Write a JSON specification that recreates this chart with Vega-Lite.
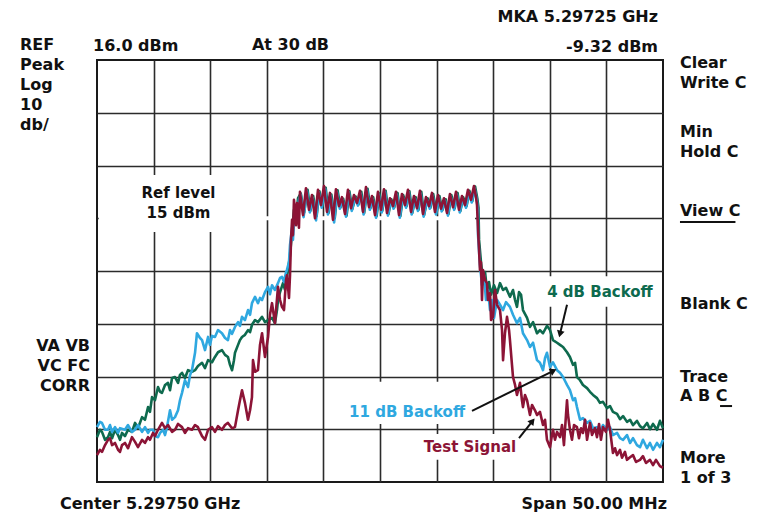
{
  "$schema": "https://vega.github.io/schema/vega-lite/v6.json",
  "width": 566,
  "height": 422,
  "autosize": {"type": "none"},
  "padding": {"left": 97, "top": 60, "right": 98, "bottom": 31},
  "background": "white",
  "config": {
    "view": {"stroke": "#1a1a1a", "strokeWidth": 2},
    "axis": {"labels": false, "ticks": false, "domain": false, "grid": true, "gridColor": "#2b2b2b", "gridWidth": 1.6, "gridOpacity": 1},
    "text": {"font": "DejaVu Sans", "fontWeight": "bold", "fontSize": 16, "color": "#111111"},
    "line": {"strokeWidth": 2.6, "strokeJoin": "round"}
  },
  "datasets": {
    "green": [
      {"mhz":-25.00,"dbm":-55.5},{"mhz":-24.74,"dbm":-54.1},{"mhz":-24.56,"dbm":-54.5},{"mhz":-24.29,"dbm":-56.0},{"mhz":-24.03,"dbm":-55.5},{"mhz":-23.85,"dbm":-54.5},{"mhz":-23.67,"dbm":-55.7},{"mhz":-23.41,"dbm":-54.1},{"mhz":-23.14,"dbm":-55.1},{"mhz":-22.97,"dbm":-56.0},{"mhz":-22.79,"dbm":-54.7},{"mhz":-22.53,"dbm":-55.3},{"mhz":-22.26,"dbm":-54.1},{"mhz":-21.91,"dbm":-54.5},{"mhz":-21.64,"dbm":-52.8},{"mhz":-21.38,"dbm":-53.8},{"mhz":-21.02,"dbm":-51.7},{"mhz":-20.76,"dbm":-52.2},{"mhz":-20.49,"dbm":-49.8},{"mhz":-20.32,"dbm":-50.7},{"mhz":-20.14,"dbm":-47.9},{"mhz":-19.88,"dbm":-48.5},{"mhz":-19.61,"dbm":-46.0},{"mhz":-19.43,"dbm":-46.9},{"mhz":-19.26,"dbm":-47.1},{"mhz":-18.99,"dbm":-45.6},{"mhz":-18.73,"dbm":-45.2},{"mhz":-18.55,"dbm":-46.6},{"mhz":-18.37,"dbm":-44.3},{"mhz":-18.11,"dbm":-44.1},{"mhz":-17.84,"dbm":-45.2},{"mhz":-17.67,"dbm":-43.7},{"mhz":-17.49,"dbm":-43.3},{"mhz":-17.23,"dbm":-44.3},{"mhz":-16.96,"dbm":-42.8},{"mhz":-16.61,"dbm":-43.1},{"mhz":-16.34,"dbm":-42.8},{"mhz":-16.08,"dbm":-42.0},{"mhz":-15.72,"dbm":-41.4},{"mhz":-15.46,"dbm":-42.4},{"mhz":-15.19,"dbm":-40.9},{"mhz":-14.84,"dbm":-41.3},{"mhz":-14.58,"dbm":-40.3},{"mhz":-14.31,"dbm":-39.4},{"mhz":-13.96,"dbm":-39.0},{"mhz":-13.69,"dbm":-39.9},{"mhz":-13.43,"dbm":-40.3},{"mhz":-13.25,"dbm":-41.8},{"mhz":-13.07,"dbm":-42.8},{"mhz":-12.90,"dbm":-40.9},{"mhz":-12.81,"dbm":-39.5},{"mhz":-12.54,"dbm":-38.0},{"mhz":-12.37,"dbm":-37.1},{"mhz":-12.19,"dbm":-36.5},{"mhz":-11.93,"dbm":-36.1},{"mhz":-11.66,"dbm":-35.2},{"mhz":-11.48,"dbm":-35.6},{"mhz":-11.31,"dbm":-34.2},{"mhz":-11.04,"dbm":-33.3},{"mhz":-10.78,"dbm":-33.7},{"mhz":-10.42,"dbm":-32.7},{"mhz":-10.16,"dbm":-33.7},{"mhz":-9.89,"dbm":-33.3},{"mhz":-9.54,"dbm":-32.9},{"mhz":-9.28,"dbm":-33.9},{"mhz":-9.10,"dbm":-31.4},{"mhz":-9.01,"dbm":-29.5},{"mhz":-8.83,"dbm":-28.0},{"mhz":-8.57,"dbm":-26.3},{"mhz":-8.39,"dbm":-27.6},{"mhz":-8.13,"dbm":-23.8},{"mhz":-7.95,"dbm":-21.0},{"mhz":-7.77,"dbm":-16.6},{"mhz":-7.60,"dbm":-12.4},{"mhz":-7.42,"dbm":-14.3},{"mhz":-7.24,"dbm":-10.2},
      {"mhz":-7.0,"dbm":-9.3},{"mhz":-6.7,"dbm":-12.9},{"mhz":-6.4,"dbm":-8.6},{"mhz":-6.15,"dbm":-12.6},{"mhz":-5.9,"dbm":-9.8},{"mhz":-5.6,"dbm":-13.6},{"mhz":-5.35,"dbm":-8.9},{"mhz":-5.1,"dbm":-11.8},{"mhz":-4.8,"dbm":-8.2},{"mhz":-4.55,"dbm":-13.0},{"mhz":-4.3,"dbm":-9.5},{"mhz":-4.0,"dbm":-14.0},{"mhz":-3.75,"dbm":-8.7},{"mhz":-3.5,"dbm":-12.0},{"mhz":-3.25,"dbm":-10.3},{"mhz":-2.95,"dbm":-13.5},{"mhz":-2.7,"dbm":-8.9},{"mhz":-2.45,"dbm":-12.3},{"mhz":-2.15,"dbm":-9.9},{"mhz":-1.9,"dbm":-11.4},{"mhz":-1.65,"dbm":-9.0},{"mhz":-1.4,"dbm":-13.0},{"mhz":-1.1,"dbm":-8.4},{"mhz":-0.85,"dbm":-12.1},{"mhz":-0.6,"dbm":-10.0},{"mhz":-0.3,"dbm":-13.6},{"mhz":-0.05,"dbm":-9.3},{"mhz":0.2,"dbm":-12.6},{"mhz":0.5,"dbm":-8.8},{"mhz":0.75,"dbm":-13.2},{"mhz":1.0,"dbm":-10.4},{"mhz":1.25,"dbm":-12.0},{"mhz":1.55,"dbm":-9.2},{"mhz":1.8,"dbm":-13.6},{"mhz":2.05,"dbm":-9.6},{"mhz":2.35,"dbm":-11.7},{"mhz":2.6,"dbm":-8.9},{"mhz":2.85,"dbm":-13.0},{"mhz":3.15,"dbm":-10.0},{"mhz":3.4,"dbm":-12.4},{"mhz":3.65,"dbm":-9.0},{"mhz":3.9,"dbm":-13.4},{"mhz":4.2,"dbm":-10.2},{"mhz":4.45,"dbm":-12.0},{"mhz":4.7,"dbm":-9.4},{"mhz":5.0,"dbm":-13.0},{"mhz":5.25,"dbm":-9.8},{"mhz":5.5,"dbm":-12.5},{"mhz":5.8,"dbm":-10.4},{"mhz":6.05,"dbm":-13.2},{"mhz":6.3,"dbm":-9.6},{"mhz":6.6,"dbm":-12.1},{"mhz":6.85,"dbm":-9.2},{"mhz":7.1,"dbm":-12.6},{"mhz":7.35,"dbm":-10.0},{"mhz":7.65,"dbm":-11.7},{"mhz":7.9,"dbm":-8.8},{"mhz":8.15,"dbm":-10.8},{"mhz":8.4,"dbm":-8.0},{"mhz":8.6,"dbm":-10.3},{"mhz":8.7,"dbm":-12.0},
      {"mhz":8.75,"dbm":-18.1},{"mhz":8.92,"dbm":-22.3},{"mhz":9.10,"dbm":-25.7},{"mhz":9.28,"dbm":-24.2},{"mhz":9.45,"dbm":-27.6},{"mhz":9.63,"dbm":-26.1},{"mhz":9.81,"dbm":-28.5},{"mhz":10.07,"dbm":-26.7},{"mhz":10.34,"dbm":-28.2},{"mhz":10.60,"dbm":-26.3},{"mhz":10.87,"dbm":-27.6},{"mhz":11.13,"dbm":-27.2},{"mhz":11.48,"dbm":-28.9},{"mhz":11.75,"dbm":-27.6},{"mhz":11.93,"dbm":-29.5},{"mhz":12.10,"dbm":-30.8},{"mhz":12.28,"dbm":-28.0},{"mhz":12.46,"dbm":-28.5},{"mhz":12.63,"dbm":-31.4},{"mhz":12.99,"dbm":-32.9},{"mhz":13.25,"dbm":-34.6},{"mhz":13.52,"dbm":-33.7},{"mhz":13.87,"dbm":-35.8},{"mhz":14.13,"dbm":-35.2},{"mhz":14.40,"dbm":-35.8},{"mhz":14.75,"dbm":-34.4},{"mhz":15.02,"dbm":-35.2},{"mhz":15.28,"dbm":-37.1},{"mhz":15.64,"dbm":-37.6},{"mhz":15.90,"dbm":-38.0},{"mhz":16.17,"dbm":-38.4},{"mhz":16.52,"dbm":-39.4},{"mhz":16.78,"dbm":-40.3},{"mhz":17.05,"dbm":-41.8},{"mhz":17.23,"dbm":-41.4},{"mhz":17.40,"dbm":-44.1},{"mhz":17.67,"dbm":-44.7},{"mhz":17.93,"dbm":-45.6},{"mhz":18.29,"dbm":-46.2},{"mhz":18.55,"dbm":-46.9},{"mhz":18.82,"dbm":-47.5},{"mhz":19.17,"dbm":-48.1},{"mhz":19.43,"dbm":-49.0},{"mhz":19.70,"dbm":-48.8},{"mhz":20.05,"dbm":-50.0},{"mhz":20.32,"dbm":-49.6},{"mhz":20.58,"dbm":-50.7},{"mhz":20.94,"dbm":-51.1},{"mhz":21.20,"dbm":-52.1},{"mhz":21.47,"dbm":-51.5},{"mhz":21.82,"dbm":-52.6},{"mhz":22.09,"dbm":-52.2},{"mhz":22.35,"dbm":-53.2},{"mhz":22.70,"dbm":-52.4},{"mhz":22.97,"dbm":-53.4},{"mhz":23.23,"dbm":-53.8},{"mhz":23.59,"dbm":-52.8},{"mhz":23.85,"dbm":-54.0},{"mhz":24.12,"dbm":-53.0},{"mhz":24.47,"dbm":-54.1},{"mhz":24.73,"dbm":-52.4},{"mhz":25.00,"dbm":-53.8}
    ],
    "blue": [
      {"mhz":-25.00,"dbm":-53.6},{"mhz":-24.74,"dbm":-52.6},{"mhz":-24.56,"dbm":-52.8},{"mhz":-24.29,"dbm":-54.1},{"mhz":-24.03,"dbm":-54.1},{"mhz":-23.85,"dbm":-53.2},{"mhz":-23.67,"dbm":-54.5},{"mhz":-23.41,"dbm":-53.6},{"mhz":-23.14,"dbm":-54.7},{"mhz":-22.97,"dbm":-53.8},{"mhz":-22.53,"dbm":-54.1},{"mhz":-22.26,"dbm":-53.2},{"mhz":-21.91,"dbm":-54.5},{"mhz":-21.64,"dbm":-54.1},{"mhz":-21.38,"dbm":-53.2},{"mhz":-21.02,"dbm":-54.5},{"mhz":-20.76,"dbm":-53.6},{"mhz":-20.49,"dbm":-54.7},{"mhz":-20.32,"dbm":-54.1},{"mhz":-20.05,"dbm":-54.1},{"mhz":-19.88,"dbm":-55.3},{"mhz":-19.61,"dbm":-55.5},{"mhz":-19.43,"dbm":-54.7},{"mhz":-19.17,"dbm":-54.1},{"mhz":-18.99,"dbm":-55.1},{"mhz":-18.82,"dbm":-53.6},{"mhz":-18.55,"dbm":-50.4},{"mhz":-18.37,"dbm":-52.2},{"mhz":-18.11,"dbm":-51.7},{"mhz":-17.84,"dbm":-50.4},{"mhz":-17.67,"dbm":-48.5},{"mhz":-17.49,"dbm":-47.1},{"mhz":-17.23,"dbm":-44.7},{"mhz":-16.96,"dbm":-46.0},{"mhz":-16.78,"dbm":-43.7},{"mhz":-16.61,"dbm":-42.8},{"mhz":-16.34,"dbm":-39.5},{"mhz":-16.17,"dbm":-35.8},{"mhz":-15.90,"dbm":-36.7},{"mhz":-15.72,"dbm":-37.1},{"mhz":-15.46,"dbm":-39.0},{"mhz":-15.19,"dbm":-36.5},{"mhz":-15.02,"dbm":-38.0},{"mhz":-14.84,"dbm":-36.3},{"mhz":-14.58,"dbm":-36.5},{"mhz":-14.31,"dbm":-35.2},{"mhz":-13.96,"dbm":-35.8},{"mhz":-13.69,"dbm":-36.7},{"mhz":-13.43,"dbm":-37.1},{"mhz":-13.25,"dbm":-35.2},{"mhz":-13.07,"dbm":-35.9},{"mhz":-12.81,"dbm":-34.6},{"mhz":-12.54,"dbm":-33.7},{"mhz":-12.37,"dbm":-34.4},{"mhz":-12.19,"dbm":-32.7},{"mhz":-11.93,"dbm":-33.3},{"mhz":-11.66,"dbm":-31.4},{"mhz":-11.48,"dbm":-32.3},{"mhz":-11.31,"dbm":-30.1},{"mhz":-11.04,"dbm":-28.9},{"mhz":-10.78,"dbm":-30.1},{"mhz":-10.60,"dbm":-29.1},{"mhz":-10.42,"dbm":-29.5},{"mhz":-10.16,"dbm":-28.0},{"mhz":-9.89,"dbm":-27.0},{"mhz":-9.72,"dbm":-28.4},{"mhz":-9.54,"dbm":-26.7},{"mhz":-9.28,"dbm":-27.6},{"mhz":-9.01,"dbm":-26.3},{"mhz":-8.83,"dbm":-25.3},{"mhz":-8.66,"dbm":-25.1},{"mhz":-8.48,"dbm":-26.1},{"mhz":-8.30,"dbm":-24.2},{"mhz":-8.22,"dbm":-23.8},{"mhz":-8.04,"dbm":-22.3},{"mhz":-7.95,"dbm":-19.1},{"mhz":-7.77,"dbm":-15.8},{"mhz":-7.69,"dbm":-18.1},{"mhz":-7.51,"dbm":-11.5},{"mhz":-7.33,"dbm":-14.0},{"mhz":-7.16,"dbm":-10.5},
      {"mhz":-7.0,"dbm":-9.5},{"mhz":-6.75,"dbm":-13.8},{"mhz":-6.45,"dbm":-8.8},{"mhz":-6.2,"dbm":-12.9},{"mhz":-5.95,"dbm":-10.1},{"mhz":-5.65,"dbm":-14.4},{"mhz":-5.4,"dbm":-9.1},{"mhz":-5.15,"dbm":-12.0},{"mhz":-4.85,"dbm":-8.4},{"mhz":-4.6,"dbm":-13.3},{"mhz":-4.35,"dbm":-9.7},{"mhz":-4.05,"dbm":-14.8},{"mhz":-3.8,"dbm":-9.0},{"mhz":-3.55,"dbm":-12.2},{"mhz":-3.3,"dbm":-10.5},{"mhz":-3.0,"dbm":-13.7},{"mhz":-2.75,"dbm":-9.1},{"mhz":-2.5,"dbm":-12.6},{"mhz":-2.2,"dbm":-10.1},{"mhz":-1.95,"dbm":-11.6},{"mhz":-1.7,"dbm":-9.3},{"mhz":-1.45,"dbm":-13.3},{"mhz":-1.15,"dbm":-8.6},{"mhz":-0.9,"dbm":-12.4},{"mhz":-0.65,"dbm":-10.3},{"mhz":-0.35,"dbm":-13.9},{"mhz":-0.1,"dbm":-9.5},{"mhz":0.15,"dbm":-12.9},{"mhz":0.45,"dbm":-9.0},{"mhz":0.7,"dbm":-13.5},{"mhz":0.95,"dbm":-10.7},{"mhz":1.2,"dbm":-12.2},{"mhz":1.5,"dbm":-9.5},{"mhz":1.75,"dbm":-13.9},{"mhz":2.0,"dbm":-9.9},{"mhz":2.3,"dbm":-12.0},{"mhz":2.55,"dbm":-9.1},{"mhz":2.8,"dbm":-13.3},{"mhz":3.1,"dbm":-10.3},{"mhz":3.35,"dbm":-12.6},{"mhz":3.6,"dbm":-9.3},{"mhz":3.85,"dbm":-13.7},{"mhz":4.15,"dbm":-10.5},{"mhz":4.4,"dbm":-12.2},{"mhz":4.65,"dbm":-9.7},{"mhz":4.95,"dbm":-13.3},{"mhz":5.2,"dbm":-10.1},{"mhz":5.45,"dbm":-12.7},{"mhz":5.75,"dbm":-10.7},{"mhz":6.0,"dbm":-13.5},{"mhz":6.25,"dbm":-9.9},{"mhz":6.55,"dbm":-12.4},{"mhz":6.8,"dbm":-9.5},{"mhz":7.05,"dbm":-12.9},{"mhz":7.3,"dbm":-10.3},{"mhz":7.6,"dbm":-12.0},{"mhz":7.85,"dbm":-9.1},{"mhz":8.1,"dbm":-11.0},{"mhz":8.35,"dbm":-8.3},{"mhz":8.55,"dbm":-10.5},{"mhz":8.65,"dbm":-12.5},
      {"mhz":8.66,"dbm":-17.2},{"mhz":8.83,"dbm":-22.9},{"mhz":9.01,"dbm":-26.7},{"mhz":9.19,"dbm":-24.8},{"mhz":9.36,"dbm":-29.5},{"mhz":9.54,"dbm":-27.6},{"mhz":9.72,"dbm":-31.4},{"mhz":9.89,"dbm":-29.5},{"mhz":10.07,"dbm":-32.9},{"mhz":10.34,"dbm":-29.5},{"mhz":10.60,"dbm":-30.4},{"mhz":10.87,"dbm":-31.4},{"mhz":11.13,"dbm":-29.9},{"mhz":11.48,"dbm":-30.8},{"mhz":11.75,"dbm":-32.3},{"mhz":12.10,"dbm":-33.9},{"mhz":12.37,"dbm":-32.9},{"mhz":12.63,"dbm":-35.8},{"mhz":12.99,"dbm":-37.1},{"mhz":13.25,"dbm":-38.4},{"mhz":13.52,"dbm":-37.6},{"mhz":13.87,"dbm":-40.9},{"mhz":14.13,"dbm":-41.4},{"mhz":14.40,"dbm":-42.8},{"mhz":14.58,"dbm":-40.5},{"mhz":14.75,"dbm":-39.5},{"mhz":15.02,"dbm":-42.2},{"mhz":15.28,"dbm":-41.3},{"mhz":15.64,"dbm":-42.8},{"mhz":15.90,"dbm":-43.3},{"mhz":16.17,"dbm":-44.1},{"mhz":16.52,"dbm":-45.6},{"mhz":16.78,"dbm":-46.6},{"mhz":17.05,"dbm":-48.5},{"mhz":17.23,"dbm":-48.1},{"mhz":17.40,"dbm":-49.8},{"mhz":17.67,"dbm":-52.2},{"mhz":17.93,"dbm":-51.9},{"mhz":18.29,"dbm":-52.8},{"mhz":18.55,"dbm":-52.4},{"mhz":18.82,"dbm":-53.8},{"mhz":19.17,"dbm":-53.6},{"mhz":19.43,"dbm":-54.5},{"mhz":19.70,"dbm":-53.2},{"mhz":20.05,"dbm":-54.1},{"mhz":20.32,"dbm":-53.6},{"mhz":20.58,"dbm":-55.1},{"mhz":20.94,"dbm":-54.7},{"mhz":21.20,"dbm":-55.7},{"mhz":21.47,"dbm":-56.0},{"mhz":21.82,"dbm":-55.1},{"mhz":22.09,"dbm":-56.6},{"mhz":22.35,"dbm":-55.7},{"mhz":22.70,"dbm":-57.0},{"mhz":22.97,"dbm":-57.4},{"mhz":23.23,"dbm":-56.0},{"mhz":23.59,"dbm":-57.6},{"mhz":23.85,"dbm":-56.6},{"mhz":24.12,"dbm":-57.9},{"mhz":24.47,"dbm":-56.6},{"mhz":24.73,"dbm":-57.4},{"mhz":25.00,"dbm":-56.0}
    ],
    "red": [
      {"mhz":-25.00,"dbm":-58.9},{"mhz":-24.74,"dbm":-57.9},{"mhz":-24.56,"dbm":-58.3},{"mhz":-24.29,"dbm":-57.0},{"mhz":-24.03,"dbm":-56.0},{"mhz":-23.85,"dbm":-55.7},{"mhz":-23.67,"dbm":-57.0},{"mhz":-23.41,"dbm":-56.6},{"mhz":-23.14,"dbm":-57.9},{"mhz":-22.97,"dbm":-58.3},{"mhz":-22.79,"dbm":-57.0},{"mhz":-22.53,"dbm":-56.6},{"mhz":-22.26,"dbm":-57.6},{"mhz":-21.91,"dbm":-55.5},{"mhz":-21.64,"dbm":-56.4},{"mhz":-21.38,"dbm":-57.4},{"mhz":-21.02,"dbm":-56.0},{"mhz":-20.76,"dbm":-56.6},{"mhz":-20.49,"dbm":-55.5},{"mhz":-20.32,"dbm":-56.0},{"mhz":-20.05,"dbm":-54.7},{"mhz":-19.88,"dbm":-55.3},{"mhz":-19.61,"dbm":-54.1},{"mhz":-19.26,"dbm":-52.8},{"mhz":-18.99,"dbm":-53.8},{"mhz":-18.73,"dbm":-53.2},{"mhz":-18.37,"dbm":-54.5},{"mhz":-18.11,"dbm":-54.1},{"mhz":-17.84,"dbm":-53.0},{"mhz":-17.49,"dbm":-53.6},{"mhz":-17.23,"dbm":-54.7},{"mhz":-16.96,"dbm":-53.8},{"mhz":-16.61,"dbm":-54.1},{"mhz":-16.34,"dbm":-53.2},{"mhz":-16.08,"dbm":-53.6},{"mhz":-15.90,"dbm":-54.5},{"mhz":-15.72,"dbm":-55.3},{"mhz":-15.46,"dbm":-56.0},{"mhz":-15.19,"dbm":-54.1},{"mhz":-14.84,"dbm":-53.6},{"mhz":-14.58,"dbm":-54.5},{"mhz":-14.31,"dbm":-53.4},{"mhz":-13.96,"dbm":-54.1},{"mhz":-13.69,"dbm":-53.2},{"mhz":-13.43,"dbm":-52.8},{"mhz":-13.07,"dbm":-53.8},{"mhz":-12.81,"dbm":-53.6},{"mhz":-12.54,"dbm":-50.4},{"mhz":-12.37,"dbm":-48.5},{"mhz":-12.19,"dbm":-46.6},{"mhz":-11.93,"dbm":-49.0},{"mhz":-11.66,"dbm":-52.2},{"mhz":-11.48,"dbm":-50.4},{"mhz":-11.31,"dbm":-47.9},{"mhz":-11.22,"dbm":-40.9},{"mhz":-11.04,"dbm":-43.1},{"mhz":-10.78,"dbm":-42.8},{"mhz":-10.60,"dbm":-38.0},{"mhz":-10.42,"dbm":-35.8},{"mhz":-10.16,"dbm":-40.3},{"mhz":-9.89,"dbm":-36.5},{"mhz":-9.72,"dbm":-32.3},{"mhz":-9.54,"dbm":-30.1},{"mhz":-9.28,"dbm":-33.9},{"mhz":-9.01,"dbm":-27.0},{"mhz":-8.83,"dbm":-29.5},{"mhz":-8.66,"dbm":-30.8},{"mhz":-8.48,"dbm":-31.4},{"mhz":-8.30,"dbm":-25.7},{"mhz":-8.22,"dbm":-24.8},{"mhz":-8.04,"dbm":-29.1},{"mhz":-7.95,"dbm":-24.8},{"mhz":-7.86,"dbm":-18.1},{"mhz":-7.77,"dbm":-14.3},{"mhz":-7.69,"dbm":-17.2},{"mhz":-7.60,"dbm":-10.5},{"mhz":-7.42,"dbm":-15.3},{"mhz":-7.33,"dbm":-11.1},{"mhz":-7.16,"dbm":-15.8},
      {"mhz":-7.07,"dbm":-9.0},{"mhz":-6.80,"dbm":-13.4},{"mhz":-6.54,"dbm":-8.3},{"mhz":-6.27,"dbm":-12.4},{"mhz":-6.01,"dbm":-9.6},{"mhz":-5.74,"dbm":-14.0},{"mhz":-5.48,"dbm":-8.6},{"mhz":-5.21,"dbm":-11.5},{"mhz":-4.95,"dbm":-7.9},{"mhz":-4.68,"dbm":-12.8},{"mhz":-4.42,"dbm":-9.2},{"mhz":-4.15,"dbm":-14.3},{"mhz":-3.89,"dbm":-8.5},{"mhz":-3.62,"dbm":-11.7},{"mhz":-3.36,"dbm":-10.0},{"mhz":-3.09,"dbm":-13.2},{"mhz":-2.83,"dbm":-8.6},{"mhz":-2.56,"dbm":-12.1},{"mhz":-2.30,"dbm":-9.6},{"mhz":-2.03,"dbm":-11.1},{"mhz":-1.77,"dbm":-8.8},{"mhz":-1.50,"dbm":-12.8},{"mhz":-1.24,"dbm":-8.1},{"mhz":-0.97,"dbm":-11.9},{"mhz":-0.71,"dbm":-9.8},{"mhz":-0.44,"dbm":-13.4},{"mhz":-0.18,"dbm":-9.0},{"mhz":0.09,"dbm":-12.4},{"mhz":0.35,"dbm":-8.5},{"mhz":0.62,"dbm":-13.0},{"mhz":0.88,"dbm":-10.2},{"mhz":1.15,"dbm":-11.7},{"mhz":1.41,"dbm":-9.0},{"mhz":1.68,"dbm":-13.4},{"mhz":1.94,"dbm":-9.4},{"mhz":2.21,"dbm":-11.5},{"mhz":2.47,"dbm":-8.6},{"mhz":2.74,"dbm":-12.8},{"mhz":3.00,"dbm":-9.8},{"mhz":3.27,"dbm":-12.1},{"mhz":3.53,"dbm":-8.8},{"mhz":3.80,"dbm":-13.2},{"mhz":4.06,"dbm":-10.0},{"mhz":4.33,"dbm":-11.7},{"mhz":4.59,"dbm":-9.2},{"mhz":4.86,"dbm":-12.8},{"mhz":5.12,"dbm":-9.6},{"mhz":5.39,"dbm":-12.2},{"mhz":5.65,"dbm":-10.2},{"mhz":5.92,"dbm":-13.0},{"mhz":6.18,"dbm":-9.4},{"mhz":6.45,"dbm":-11.9},{"mhz":6.71,"dbm":-9.0},{"mhz":6.98,"dbm":-12.4},{"mhz":7.24,"dbm":-9.8},{"mhz":7.51,"dbm":-11.5},{"mhz":7.77,"dbm":-8.6},{"mhz":8.04,"dbm":-10.5},{"mhz":8.30,"dbm":-7.9},{"mhz":8.48,"dbm":-10.0},{"mhz":8.57,"dbm":-11.5},
      {"mhz":8.66,"dbm":-16.2},{"mhz":8.75,"dbm":-20.0},{"mhz":8.83,"dbm":-23.8},{"mhz":8.92,"dbm":-22.3},{"mhz":9.01,"dbm":-29.5},{"mhz":9.10,"dbm":-23.8},{"mhz":9.28,"dbm":-25.7},{"mhz":9.45,"dbm":-26.3},{"mhz":9.54,"dbm":-29.5},{"mhz":9.72,"dbm":-28.2},{"mhz":9.81,"dbm":-33.3},{"mhz":9.98,"dbm":-32.7},{"mhz":10.16,"dbm":-27.6},{"mhz":10.34,"dbm":-30.4},{"mhz":10.60,"dbm":-31.4},{"mhz":10.78,"dbm":-35.2},{"mhz":10.87,"dbm":-40.9},{"mhz":11.04,"dbm":-35.8},{"mhz":11.22,"dbm":-32.7},{"mhz":11.40,"dbm":-35.2},{"mhz":11.48,"dbm":-37.1},{"mhz":11.66,"dbm":-41.8},{"mhz":11.75,"dbm":-44.1},{"mhz":11.93,"dbm":-45.6},{"mhz":12.10,"dbm":-47.5},{"mhz":12.37,"dbm":-45.2},{"mhz":12.54,"dbm":-48.5},{"mhz":12.63,"dbm":-49.8},{"mhz":12.81,"dbm":-47.5},{"mhz":12.99,"dbm":-48.5},{"mhz":13.25,"dbm":-51.3},{"mhz":13.43,"dbm":-49.4},{"mhz":13.69,"dbm":-50.4},{"mhz":13.87,"dbm":-51.3},{"mhz":14.13,"dbm":-50.7},{"mhz":14.40,"dbm":-53.2},{"mhz":14.58,"dbm":-52.2},{"mhz":14.75,"dbm":-56.0},{"mhz":15.02,"dbm":-57.4},{"mhz":15.19,"dbm":-55.1},{"mhz":15.28,"dbm":-54.1},{"mhz":15.46,"dbm":-56.0},{"mhz":15.64,"dbm":-54.5},{"mhz":15.90,"dbm":-55.5},{"mhz":16.08,"dbm":-53.2},{"mhz":16.25,"dbm":-57.0},{"mhz":16.43,"dbm":-51.3},{"mhz":16.52,"dbm":-48.5},{"mhz":16.61,"dbm":-51.3},{"mhz":16.78,"dbm":-54.1},{"mhz":16.96,"dbm":-56.0},{"mhz":17.14,"dbm":-53.2},{"mhz":17.40,"dbm":-53.6},{"mhz":17.58,"dbm":-55.7},{"mhz":17.76,"dbm":-53.8},{"mhz":17.93,"dbm":-54.7},{"mhz":18.11,"dbm":-52.2},{"mhz":18.29,"dbm":-56.0},{"mhz":18.55,"dbm":-52.8},{"mhz":18.73,"dbm":-55.1},{"mhz":18.99,"dbm":-53.8},{"mhz":19.17,"dbm":-55.5},{"mhz":19.35,"dbm":-53.0},{"mhz":19.52,"dbm":-56.0},{"mhz":19.70,"dbm":-53.6},{"mhz":19.96,"dbm":-54.5},{"mhz":20.14,"dbm":-52.2},{"mhz":20.32,"dbm":-54.1},{"mhz":20.49,"dbm":-57.0},{"mhz":20.58,"dbm":-58.5},{"mhz":20.76,"dbm":-57.6},{"mhz":20.94,"dbm":-58.9},{"mhz":21.20,"dbm":-57.9},{"mhz":21.38,"dbm":-59.4},{"mhz":21.64,"dbm":-58.3},{"mhz":21.82,"dbm":-59.8},{"mhz":22.09,"dbm":-59.3},{"mhz":22.35,"dbm":-58.9},{"mhz":22.62,"dbm":-60.2},{"mhz":22.97,"dbm":-59.8},{"mhz":23.23,"dbm":-59.1},{"mhz":23.50,"dbm":-60.4},{"mhz":23.85,"dbm":-59.8},{"mhz":24.12,"dbm":-60.8},{"mhz":24.38,"dbm":-59.8},{"mhz":24.73,"dbm":-61.0},{"mhz":25.00,"dbm":-61.3}
    ]
  },
  "layer": [
    {"data": {"values": [{}]}, "mark": {"type": "rect", "color": "white"},
     "encoding": {"x": {"datum": -24.85, "type": "quantitative", "scale": {"domain": [-25, 25], "nice": false}}, "x2": {"datum": 8.4}, "y": {"datum": -13.6, "type": "quantitative", "scale": {"domain": [-64, 16], "nice": false, "zero": false}}, "y2": {"datum": -14.4}}},
    {"data": {"values": [{}]}, "mark": {"type": "rect", "color": "white"},
     "encoding": {"x": {"datum": -21.64, "type": "quantitative", "scale": {"domain": [-25, 25], "nice": false}}, "x2": {"datum": -13.69}, "y": {"datum": -5.8, "type": "quantitative", "scale": {"domain": [-64, 16], "nice": false, "zero": false}}, "y2": {"datum": -16.6}}},
    {"data": {"values": [{}]}, "mark": {"type": "rect", "color": "white"},
     "encoding": {"x": {"datum": 14.13, "type": "quantitative", "scale": {"domain": [-25, 25], "nice": false}}, "x2": {"datum": 24.73}, "y": {"datum": -25.0, "type": "quantitative", "scale": {"domain": [-64, 16], "nice": false, "zero": false}}, "y2": {"datum": -30.8}}},
    {"data": {"values": [{}]}, "mark": {"type": "rect", "color": "white"},
     "encoding": {"x": {"datum": -3.98, "type": "quantitative", "scale": {"domain": [-25, 25], "nice": false}}, "x2": {"datum": 8.66}, "y": {"datum": -45.0, "type": "quantitative", "scale": {"domain": [-64, 16], "nice": false, "zero": false}}, "y2": {"datum": -53.0}}},
    {"data": {"values": [{}]}, "mark": {"type": "rect", "color": "white"},
     "encoding": {"x": {"datum": 3.53, "type": "quantitative", "scale": {"domain": [-25, 25], "nice": false}}, "x2": {"datum": 12.37}, "y": {"datum": -54.9, "type": "quantitative", "scale": {"domain": [-64, 16], "nice": false, "zero": false}}, "y2": {"datum": -59.8}}},
    {"data": {"name": "green"}, "mark": {"type": "line", "color": "#0e6a4e"},
     "encoding": {
       "x": {"field": "mhz", "type": "quantitative", "scale": {"domain": [-25, 25], "nice": false}, "axis": {"values": [-20, -15, -10, -5, 0, 5, 10, 15, 20], "title": null}},
       "y": {"field": "dbm", "type": "quantitative", "scale": {"domain": [-64, 16], "nice": false, "zero": false}, "axis": {"values": [-54, -44, -34, -24, -14, -4, 6], "title": null}}}},
    {"data": {"name": "blue"}, "mark": {"type": "line", "color": "#2fa8e0"},
     "encoding": {
       "x": {"field": "mhz", "type": "quantitative", "scale": {"domain": [-25, 25], "nice": false}},
       "y": {"field": "dbm", "type": "quantitative", "scale": {"domain": [-64, 16], "nice": false, "zero": false}}}},
    {"data": {"name": "red"}, "mark": {"type": "line", "color": "#8c1436"},
     "encoding": {
       "x": {"field": "mhz", "type": "quantitative", "scale": {"domain": [-25, 25], "nice": false}},
       "y": {"field": "dbm", "type": "quantitative", "scale": {"domain": [-64, 16], "nice": false, "zero": false}}}},
    {"data": {"values": [{}]}, "mark": {"type": "rule", "color": "#111111", "strokeWidth": 2},
     "encoding": {"x": {"datum": 16.52, "type": "quantitative", "scale": {"domain": [-25, 25], "nice": false}}, "y": {"datum": -30.4, "type": "quantitative", "scale": {"domain": [-64, 16], "nice": false, "zero": false}}, "x2": {"datum": 15.90}, "y2": {"datum": -35.94}}},
    {"data": {"values": [{}]}, "mark": {"type": "rule", "color": "#111111", "strokeWidth": 2},
     "encoding": {"x": {"datum": 8.13, "type": "quantitative", "scale": {"domain": [-25, 25], "nice": false}}, "y": {"datum": -50.5, "type": "quantitative", "scale": {"domain": [-64, 16], "nice": false, "zero": false}}, "x2": {"datum": 15.32}, "y2": {"datum": -42.92}}},
    {"data": {"values": [{}]}, "mark": {"type": "rule", "color": "#111111", "strokeWidth": 2},
     "encoding": {"x": {"datum": 12.28, "type": "quantitative", "scale": {"domain": [-25, 25], "nice": false}}, "y": {"datum": -55.7, "type": "quantitative", "scale": {"domain": [-64, 16], "nice": false, "zero": false}}, "x2": {"datum": 13.47}, "y2": {"datum": -52.45}}},
    {"data": {"values": [{}]}, "mark": {"type": "point", "shape": "triangle-up", "angle": 194, "filled": true, "size": 60, "color": "#111111", "opacity": 1},
     "encoding": {"x": {"datum": 15.90, "type": "quantitative", "scale": {"domain": [-25, 25], "nice": false}}, "y": {"datum": -35.94, "type": "quantitative", "scale": {"domain": [-64, 16], "nice": false, "zero": false}}}},
    {"data": {"values": [{}]}, "mark": {"type": "point", "shape": "triangle-up", "angle": 64, "filled": true, "size": 60, "color": "#111111", "opacity": 1},
     "encoding": {"x": {"datum": 15.32, "type": "quantitative", "scale": {"domain": [-25, 25], "nice": false}}, "y": {"datum": -42.92, "type": "quantitative", "scale": {"domain": [-64, 16], "nice": false, "zero": false}}}},
    {"data": {"values": [{}]}, "mark": {"type": "point", "shape": "triangle-up", "angle": 39, "filled": true, "size": 60, "color": "#111111", "opacity": 1},
     "encoding": {"x": {"datum": 13.47, "type": "quantitative", "scale": {"domain": [-25, 25], "nice": false}}, "y": {"datum": -52.45, "type": "quantitative", "scale": {"domain": [-64, 16], "nice": false, "zero": false}}}},
    {"data": {"values": [{}]}, "mark": {"type": "rule", "color": "#111111", "strokeWidth": 2},
     "encoding": {"x": {"datum": 26.5, "type": "quantitative", "scale": {"domain": [-25, 25], "nice": false}}, "y": {"datum": -14.71, "type": "quantitative", "scale": {"domain": [-64, 16], "nice": false, "zero": false}}, "x2": {"datum": 31.4}, "y2": {"datum": -14.71}}},
    {"data": {"values": [{}]}, "mark": {"type": "rule", "color": "#111111", "strokeWidth": 2},
     "encoding": {"x": {"datum": 30.04, "type": "quantitative", "scale": {"domain": [-25, 25], "nice": false}}, "y": {"datum": -49.6, "type": "quantitative", "scale": {"domain": [-64, 16], "nice": false, "zero": false}}, "x2": {"datum": 31.1}, "y2": {"datum": -49.6}}},
    {"data": {"values": [{}]}, "mark": {"type": "text", "text": ["REF", "Peak", "Log", "10", "db/"], "align": "left", "baseline": "alphabetic", "lineHeight": 20},
     "encoding": {"x": {"datum": -31.8, "type": "quantitative", "scale": {"domain": [-25, 25], "nice": false}}, "y": {"datum": 17.9, "type": "quantitative", "scale": {"domain": [-64, 16], "nice": false, "zero": false}}}},
    {"data": {"values": [{}]}, "mark": {"type": "text", "text": "16.0 dBm", "align": "left", "baseline": "alphabetic"},
     "encoding": {"x": {"datum": -25.35, "type": "quantitative", "scale": {"domain": [-25, 25], "nice": false}}, "y": {"datum": 17.8, "type": "quantitative", "scale": {"domain": [-64, 16], "nice": false, "zero": false}}}},
    {"data": {"values": [{}]}, "mark": {"type": "text", "text": "At 30 dB", "align": "left", "baseline": "alphabetic"},
     "encoding": {"x": {"datum": -11.31, "type": "quantitative", "scale": {"domain": [-25, 25], "nice": false}}, "y": {"datum": 17.9, "type": "quantitative", "scale": {"domain": [-64, 16], "nice": false, "zero": false}}}},
    {"data": {"values": [{}]}, "mark": {"type": "text", "text": "MKA 5.29725 GHz", "align": "right", "baseline": "alphabetic"},
     "encoding": {"x": {"datum": 24.56, "type": "quantitative", "scale": {"domain": [-25, 25], "nice": false}}, "y": {"datum": 23.2, "type": "quantitative", "scale": {"domain": [-64, 16], "nice": false, "zero": false}}}},
    {"data": {"values": [{}]}, "mark": {"type": "text", "text": "-9.32 dBm", "align": "right", "baseline": "alphabetic"},
     "encoding": {"x": {"datum": 24.56, "type": "quantitative", "scale": {"domain": [-25, 25], "nice": false}}, "y": {"datum": 17.6, "type": "quantitative", "scale": {"domain": [-64, 16], "nice": false, "zero": false}}}},
    {"data": {"values": [{}]}, "mark": {"type": "text", "text": ["Clear", "Write C"], "align": "left", "baseline": "alphabetic", "lineHeight": 20},
     "encoding": {"x": {"datum": 26.5, "type": "quantitative", "scale": {"domain": [-25, 25], "nice": false}}, "y": {"datum": 14.48, "type": "quantitative", "scale": {"domain": [-64, 16], "nice": false, "zero": false}}}},
    {"data": {"values": [{}]}, "mark": {"type": "text", "text": ["Min", "Hold C"], "align": "left", "baseline": "alphabetic", "lineHeight": 20},
     "encoding": {"x": {"datum": 26.5, "type": "quantitative", "scale": {"domain": [-25, 25], "nice": false}}, "y": {"datum": 1.4, "type": "quantitative", "scale": {"domain": [-64, 16], "nice": false, "zero": false}}}},
    {"data": {"values": [{}]}, "mark": {"type": "text", "text": "View C", "align": "left", "baseline": "alphabetic"},
     "encoding": {"x": {"datum": 26.5, "type": "quantitative", "scale": {"domain": [-25, 25], "nice": false}}, "y": {"datum": -13.57, "type": "quantitative", "scale": {"domain": [-64, 16], "nice": false, "zero": false}}}},
    {"data": {"values": [{}]}, "mark": {"type": "text", "text": "Blank C", "align": "left", "baseline": "alphabetic"},
     "encoding": {"x": {"datum": 26.5, "type": "quantitative", "scale": {"domain": [-25, 25], "nice": false}}, "y": {"datum": -31.2, "type": "quantitative", "scale": {"domain": [-64, 16], "nice": false, "zero": false}}}},
    {"data": {"values": [{}]}, "mark": {"type": "text", "text": ["Trace", "A B C"], "align": "left", "baseline": "alphabetic", "lineHeight": 19},
     "encoding": {"x": {"datum": 26.5, "type": "quantitative", "scale": {"domain": [-25, 25], "nice": false}}, "y": {"datum": -45.04, "type": "quantitative", "scale": {"domain": [-64, 16], "nice": false, "zero": false}}}},
    {"data": {"values": [{}]}, "mark": {"type": "text", "text": ["More", "1 of 3"], "align": "left", "baseline": "alphabetic", "lineHeight": 20},
     "encoding": {"x": {"datum": 26.5, "type": "quantitative", "scale": {"domain": [-25, 25], "nice": false}}, "y": {"datum": -60.4, "type": "quantitative", "scale": {"domain": [-64, 16], "nice": false, "zero": false}}}},
    {"data": {"values": [{}]}, "mark": {"type": "text", "text": ["VA VB", "VC FC", "CORR"], "align": "right", "baseline": "alphabetic", "lineHeight": 20},
     "encoding": {"x": {"datum": -25.62, "type": "quantitative", "scale": {"domain": [-25, 25], "nice": false}}, "y": {"datum": -39.16, "type": "quantitative", "scale": {"domain": [-64, 16], "nice": false, "zero": false}}}},
    {"data": {"values": [{}]}, "mark": {"type": "text", "text": "Center 5.29750 GHz", "align": "left", "baseline": "alphabetic"},
     "encoding": {"x": {"datum": -28.27, "type": "quantitative", "scale": {"domain": [-25, 25], "nice": false}}, "y": {"datum": -69.12, "type": "quantitative", "scale": {"domain": [-64, 16], "nice": false, "zero": false}}}},
    {"data": {"values": [{}]}, "mark": {"type": "text", "text": "Span 50.00 MHz", "align": "right", "baseline": "alphabetic"},
     "encoding": {"x": {"datum": 25.35, "type": "quantitative", "scale": {"domain": [-25, 25], "nice": false}}, "y": {"datum": -69.12, "type": "quantitative", "scale": {"domain": [-64, 16], "nice": false, "zero": false}}}},
    {"data": {"values": [{}]}, "mark": {"type": "text", "text": ["Ref level", "15 dBm"], "align": "center", "baseline": "alphabetic", "lineHeight": 20, "fontSize": 15},
     "encoding": {"x": {"datum": -17.8, "type": "quantitative", "scale": {"domain": [-25, 25], "nice": false}}, "y": {"datum": -10.16, "type": "quantitative", "scale": {"domain": [-64, 16], "nice": false, "zero": false}}}},
    {"data": {"values": [{}]}, "mark": {"type": "text", "text": "4 dB Backoff", "align": "center", "baseline": "alphabetic", "fontSize": 15, "color": "#0e6a4e"},
     "encoding": {"x": {"datum": 19.43, "type": "quantitative", "scale": {"domain": [-25, 25], "nice": false}}, "y": {"datum": -28.93, "type": "quantitative", "scale": {"domain": [-64, 16], "nice": false, "zero": false}}}},
    {"data": {"values": [{}]}, "mark": {"type": "text", "text": "11 dB Backoff", "align": "center", "baseline": "alphabetic", "fontSize": 15, "color": "#2fa8e0"},
     "encoding": {"x": {"datum": 2.39, "type": "quantitative", "scale": {"domain": [-25, 25], "nice": false}}, "y": {"datum": -51.68, "type": "quantitative", "scale": {"domain": [-64, 16], "nice": false, "zero": false}}}},
    {"data": {"values": [{}]}, "mark": {"type": "text", "text": "Test Signal", "align": "center", "baseline": "alphabetic", "fontSize": 15, "color": "#8c1436"},
     "encoding": {"x": {"datum": 7.95, "type": "quantitative", "scale": {"domain": [-25, 25], "nice": false}}, "y": {"datum": -58.31, "type": "quantitative", "scale": {"domain": [-64, 16], "nice": false, "zero": false}}}}
  ]
}
